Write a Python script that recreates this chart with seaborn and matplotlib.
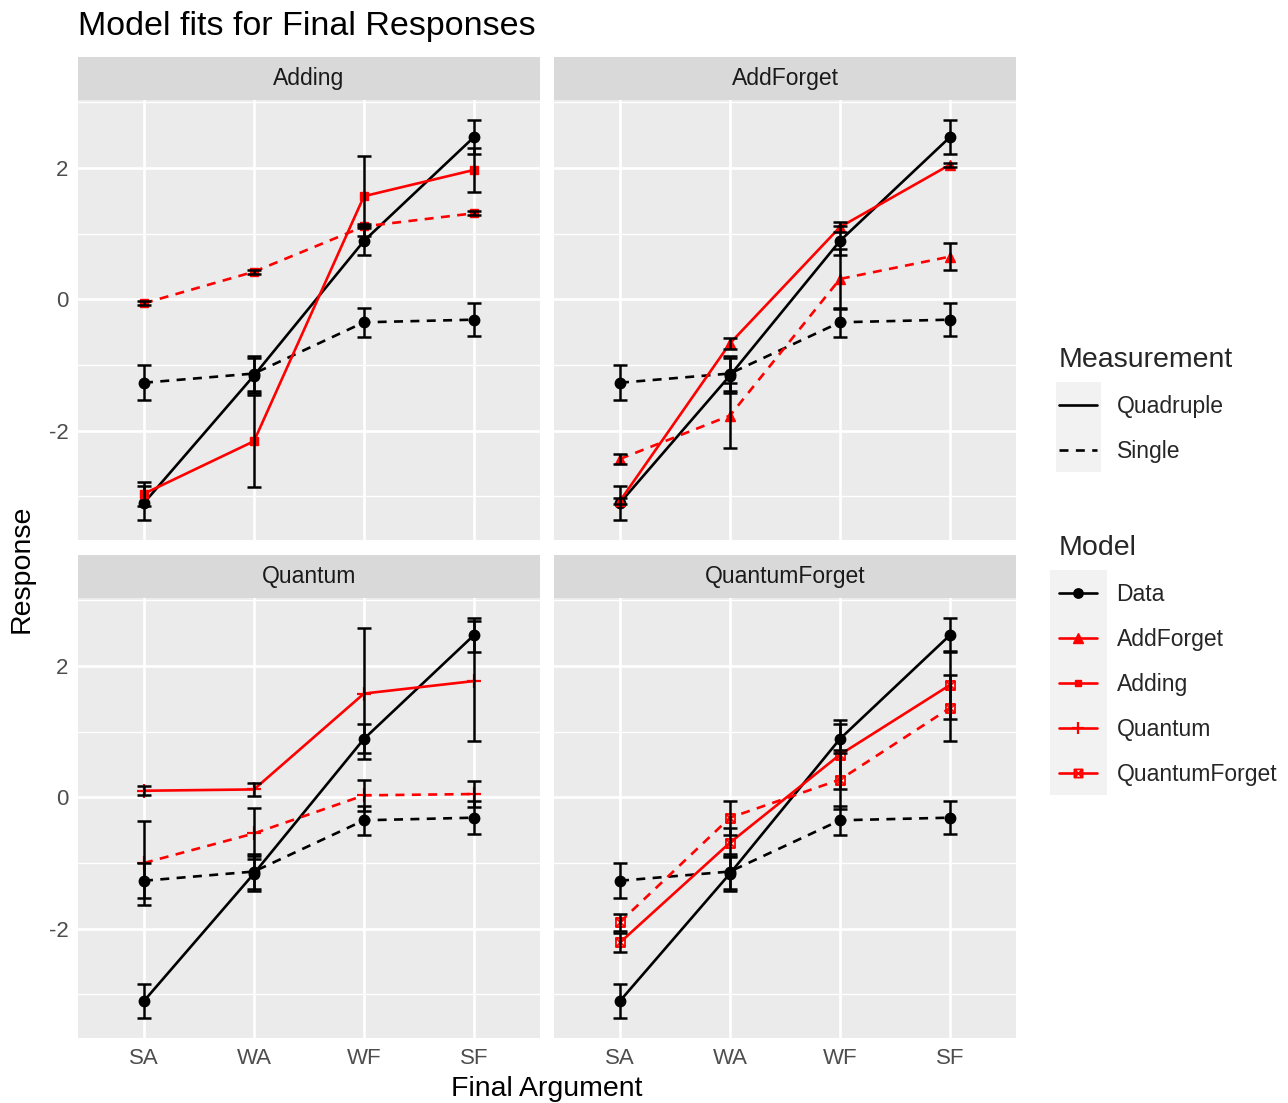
import numpy as np
import pandas as pd
import matplotlib
matplotlib.use("Agg")
import matplotlib.pyplot as plt
from matplotlib.lines import Line2D
from matplotlib.patches import Rectangle
from matplotlib.path import Path
import seaborn as sns

facets = ["Adding", "AddForget", "Quantum", "QuantumForget"]
arguments = ["SA", "WA", "WF", "SF"]

# observed responses (same in every panel)
data_quad = [-3.10, -1.16, 0.89, 2.47]
data_quad_se = [0.26, 0.27, 0.22, 0.26]
data_single = [-1.27, -1.13, -0.35, -0.31]
data_single_se = [0.27, 0.26, 0.22, 0.25]

# model predictions
adding_quad = [-2.96, -2.16, 1.57, 1.97]
adding_quad_se = [0.18, 0.70, 0.61, 0.33]
adding_single = [-0.06, 0.42, 1.11, 1.31]
adding_single_se = [0.03, 0.03, 0.03, 0.03]

addforget_quad = [-3.07, -0.67, 1.10, 2.05]
addforget_quad_se = [0.05, 0.08, 0.08, 0.03]
addforget_single = [-2.43, -1.77, 0.31, 0.65]
addforget_single_se = [0.07, 0.50, 0.45, 0.20]

quantum_quad = [0.10, 0.12, 1.58, 1.77]
quantum_quad_se = [0.07, 0.10, 1.00, 0.91]
quantum_single = [-1.00, -0.55, 0.03, 0.05]
quantum_single_se = [0.64, 0.39, 0.24, 0.20]

qforget_quad = [-2.21, -0.69, 0.65, 1.71]
qforget_quad_se = [0.15, 0.22, 0.53, 0.52]
qforget_single = [-1.90, -0.31, 0.27, 1.36]
qforget_single_se = [0.13, 0.26, 0.45, 0.50]

model_quad = {"Adding": (adding_quad, adding_quad_se),
              "AddForget": (addforget_quad, addforget_quad_se),
              "Quantum": (quantum_quad, quantum_quad_se),
              "QuantumForget": (qforget_quad, qforget_quad_se)}
model_single = {"Adding": (adding_single, adding_single_se),
                "AddForget": (addforget_single, addforget_single_se),
                "Quantum": (quantum_single, quantum_single_se),
                "QuantumForget": (qforget_single, qforget_single_se)}


def build_frame():
    rows = []
    for facet in facets:
        series = [("Data", "Quadruple", data_quad, data_quad_se),
                  ("Data", "Single", data_single, data_single_se),
                  (facet, "Quadruple") + model_quad[facet],
                  (facet, "Single") + model_single[facet]]
        for model, meas, vals, ses in series:
            for arg, v, s in zip(arguments, vals, ses):
                rows.append({"Facet": facet, "Model": model, "Measurement": meas,
                             "Argument": arg, "Response": v, "SE": s})
    return pd.DataFrame(rows)


df = build_frame()

sns.set_theme(style="darkgrid")
plt.rcParams["font.family"] = ["Liberation Sans", "DejaVu Sans"]
plt.rcParams["axes.unicode_minus"] = False

# square with a cross inside (ggplot shape 7)
box_x = Path([(-1, -1), (1, -1), (1, 1), (-1, 1), (-1, -1),
              (-1, -1), (1, 1), (-1, 1), (1, -1)],
             [Path.MOVETO, Path.LINETO, Path.LINETO, Path.LINETO, Path.CLOSEPOLY,
              Path.MOVETO, Path.LINETO, Path.MOVETO, Path.LINETO])

colors = {"Data": "black", "AddForget": "#FF0000", "Adding": "#FF0000",
          "Quantum": "#FF0000", "QuantumForget": "#FF0000"}
markers = {"Data": ("o", 7.5, 1.0, True), "AddForget": ("^", 7.5, 1.0, True),
           "Adding": ("s", 5.5, 1.0, True), "Quantum": ("+", 10, 1.6, True),
           "QuantumForget": (box_x, 6.5, 1.3, False)}
linestyles = {"Quadruple": "-", "Single": (0, (3.4, 2.8))}

W, H = 1288, 1103
fig = plt.figure(figsize=(W / 100, H / 100), dpi=100)

# y limits: data range with 5% expansion (like ggplot)
lo = (df["Response"] - df["SE"]).min()
hi = (df["Response"] + df["SE"]).max()
pad = (hi - lo) * 0.05
ylim = (lo - pad, hi + pad)

panel_w, panel_h = 462, 440
lefts = [78, 554]
tops = [100, 598]
strip_h = 43

axes = []
for i, facet in enumerate(facets):
    r, c = divmod(i, 2)
    ax = fig.add_axes([lefts[c] / W, 1 - (tops[r] + panel_h) / H, panel_w / W, panel_h / H])
    ax.set_facecolor("#EBEBEB")
    sub = df[df["Facet"] == facet]

    for model in ["Data", facet]:
        mk, ms, mew, filled = markers[model]
        for meas in ["Quadruple", "Single"]:
            g = sub[(sub["Model"] == model) & (sub["Measurement"] == meas)]
            sns.lineplot(data=g, x="Argument", y="Response", ax=ax,
                         estimator=None, errorbar=None, sort=False,
                         color=colors[model], linewidth=1.9,
                         linestyle=linestyles[meas], marker=mk, markersize=ms,
                         markeredgewidth=mew, markeredgecolor=colors[model],
                         markerfacecolor=colors[model] if filled else "none",
                         legend=False)
    for model in ["Data", facet]:
        for meas in ["Quadruple", "Single"]:
            g = sub[(sub["Model"] == model) & (sub["Measurement"] == meas)]
            ax.errorbar(g["Argument"], g["Response"], yerr=g["SE"], fmt="none",
                        ecolor="black", elinewidth=1.8, capsize=4.7, capthick=1.8,
                        zorder=4)

    ax.set_xlim(-0.6, 3.6)
    ax.set_ylim(*ylim)
    ax.set_yticks([-2, 0, 2])
    ax.set_yticklabels(["-2", "0", "2"])
    ax.set_yticks([-3, -1, 1, 3], minor=True)
    ax.grid(which="major", color="white", linewidth=1.9)
    ax.grid(which="minor", axis="y", color="white", linewidth=1.0)
    ax.set_axisbelow(True)
    for s in ax.spines.values():
        s.set_visible(False)
    ax.set_xlabel("")
    ax.set_ylabel("")
    ax.tick_params(which="major", length=4, width=1.1, color="#333333",
                   labelsize=16, labelcolor="#4D4D4D", pad=3)
    ax.tick_params(which="minor", length=0)
    if r == 0:
        ax.tick_params(axis="x", which="both", length=0, labelbottom=False)
    if c == 1:
        ax.tick_params(axis="y", which="both", length=0, labelleft=False)

    # facet strip
    ax.add_patch(Rectangle((0, 1), 1, strip_h / panel_h, transform=ax.transAxes,
                           facecolor="#D9D9D9", edgecolor="none", clip_on=False))
    ax.text(0.5, 1 + strip_h / panel_h / 2, facet, transform=ax.transAxes,
            ha="center", va="center", fontsize=16.5, color="#1A1A1A")
    axes.append(ax)

fig.text(78 / W, 1 - 27 / H, "Model fits for Final Responses", ha="left",
         va="center", fontsize=24.5, color="black")
fig.text(547 / W, 1 - 1089 / H, "Final Argument", ha="center", va="center",
         fontsize=20.5, color="black")
fig.text(22 / W, 1 - 569 / H, "Response", ha="center", va="center",
         rotation=90, fontsize=20.5, color="black")

# legends
meas_handles = [Line2D([], [], color="black", lw=1.9, linestyle=linestyles[m])
                for m in ["Quadruple", "Single"]]
model_order = ["Data", "AddForget", "Adding", "Quantum", "QuantumForget"]
model_handles = []
for m in model_order:
    mk, ms, mew, filled = markers[m]
    model_handles.append(Line2D([], [], color=colors[m], lw=1.9, marker=mk,
                                markersize=ms * 0.9, markeredgewidth=mew,
                                markeredgecolor=colors[m],
                                markerfacecolor=colors[m] if filled else "none"))

leg_kw = dict(loc="upper left", frameon=False, fontsize=16.5, title_fontsize=20.5,
              handlelength=1.66, handletextpad=0.85, labelspacing=0.96,
              borderpad=0, borderaxespad=0, alignment="left")
leg1 = fig.legend(meas_handles, ["Quadruple", "Single"], title="Measurement",
                  bbox_to_anchor=(1059 / W, 1 - 347 / H), **leg_kw)
leg2 = fig.legend(model_handles, model_order, title="Model",
                  bbox_to_anchor=(1059 / W, 1 - 535 / H), **leg_kw)

# grey key backgrounds behind legend keys
fig.canvas.draw()
renderer = fig.canvas.get_renderer()
inv = fig.transFigure.inverted()
for leg in [leg1, leg2]:
    boxes = [h.get_window_extent(renderer) for h in leg.legend_handles]
    x0 = min(b.x0 for b in boxes) - 3
    x1 = max(b.x1 for b in boxes) + 4
    ys = [(b.y0 + b.y1) / 2 for b in boxes]
    y0 = min(ys) - 22.5
    y1 = max(ys) + 22.5
    (fx0, fy0), (fx1, fy1) = inv.transform([(x0, y0), (x1, y1)])
    fig.add_artist(Rectangle((fx0, fy0), fx1 - fx0, fy1 - fy0,
                             transform=fig.transFigure, facecolor="#F2F2F2",
                             edgecolor="none", zorder=1))

fig.savefig("out.png", dpi=100, facecolor="white")
